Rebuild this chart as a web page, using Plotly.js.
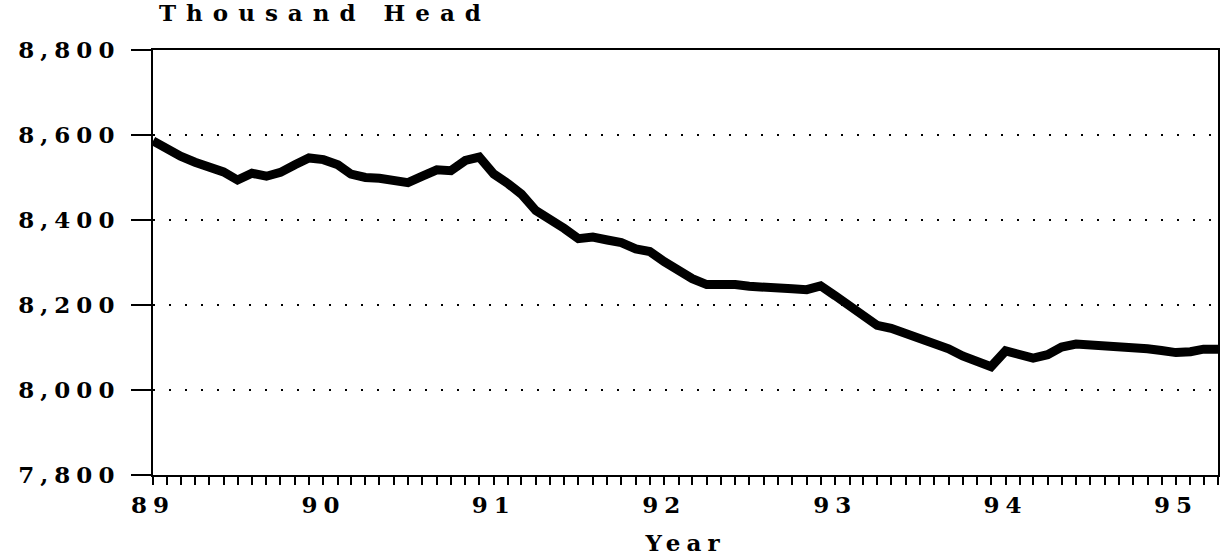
<!DOCTYPE html>
<html>
<head>
<meta charset="utf-8">
<script src="https://cdn.plot.ly/plotly-3.0.1.min.js"></script>
<style>
  html, body { margin: 0; padding: 0; background: #fff; }
  #chart { width: 1223px; height: 556px; }
  #chart text { letter-spacing: 6px; }
  #chart .annotation-text { letter-spacing: 10px; }
</style>
</head>
<body>
<div id="chart"></div>
<script>
// Monthly series, January 1989 onward (thousand head)
const startYear = 1989;
const values = [
  8586, 8566, 8550, 8536, 8527, 8513, 8494, 8510, 8503, 8512, 8530, 8546,
  8542, 8530, 8508, 8500, 8498, 8495, 8488, 8503, 8518, 8516, 8540, 8548,
  8508, 8485, 8461, 8422, 8403, 8380, 8356, 8360, 8353, 8347, 8332, 8326,
  8302, 8280, 8262, 8248, 8250, 8248, 8244, 8241, 8236, 8238, 8236, 8245,
  8222, 8198, 8175, 8152, 8145, 8133, 8116, 8104, 8097, 8080, 8070, 8055,
  8092, 8083, 8075, 8083, 8101, 8108, 8106, 8108, 8106, 8101, 8097, 8093,
  8088, 8090, 8096, 8096
];
const yTickVals = [7800, 8000, 8200, 8400, 8600, 8800];
const yTickText = ["7,800", "8,000", "8,200", "8,400", "8,600", "8,800"];
const yTitle = "Thousand Head";
const xTitle = "Year";

const months = values.map((v, i) => {
  const y = startYear + Math.floor(i / 12);
  const m = (i % 12) + 1;
  return y + "-" + String(m).padStart(2, "0") + "-01";
});

const FONT = "DejaVu Serif";
const FS = 23;

const trace = {
  x: months,
  y: values,
  type: "scatter",
  mode: "lines",
  line: { color: "#000", width: 9, shape: "linear" },
  hoverinfo: "skip"
};

const layout = {
  width: 1223,
  height: 556,
  margin: { l: 153, r: 5, t: 50, b: 81 },
  paper_bgcolor: "#fff",
  plot_bgcolor: "#fff",
  showlegend: false,
  font: { family: FONT, color: "#000", size: FS, weight: 700 },
  xaxis: {
    type: "date",
    range: ["1989-01-01", "1995-04-01"],
    dtick: "M12",
    tick0: "1989-01-01",
    tickformat: "%y",
    ticks: "outside",
    ticklen: 8,
    tickwidth: 2,
    tickcolor: "#000",
    minor: { dtick: "M1", ticks: "outside", ticklen: 8, tickwidth: 2, tickcolor: "#000", showgrid: false },
    showgrid: false,
    zeroline: false,
    showline: true,
    linecolor: "#000",
    linewidth: 2,
    mirror: true,
    tickfont: { family: FONT, size: FS, weight: 700, color: "#000" },
    title: { text: xTitle, font: { family: FONT, size: FS, weight: 700, color: "#000" }, standoff: 18 }
  },
  yaxis: {
    range: [7800, 8800],
    tickvals: yTickVals,
    ticktext: yTickText,
    ticks: "outside",
    ticklen: 20,
    tickwidth: 2,
    tickcolor: "#000",
    ticklabelstandoff: 6,
    showgrid: true,
    gridcolor: "#000",
    gridwidth: 2,
    griddash: "2px,14px",
    zeroline: false,
    showline: true,
    linecolor: "#000",
    linewidth: 2,
    mirror: true,
    tickfont: { family: FONT, size: FS, weight: 700, color: "#000" }
  },
  annotations: [{
    text: yTitle,
    xref: "paper", yref: "paper",
    x: 0.004, y: 1 + 37 / 425,
    xanchor: "left", yanchor: "middle",
    align: "left",
    showarrow: false,
    font: { family: FONT, size: FS, weight: 700, color: "#000" }
  }]
};

Plotly.newPlot("chart", [trace], layout, { displayModeBar: false, staticPlot: true });
</script>
</body>
</html>
